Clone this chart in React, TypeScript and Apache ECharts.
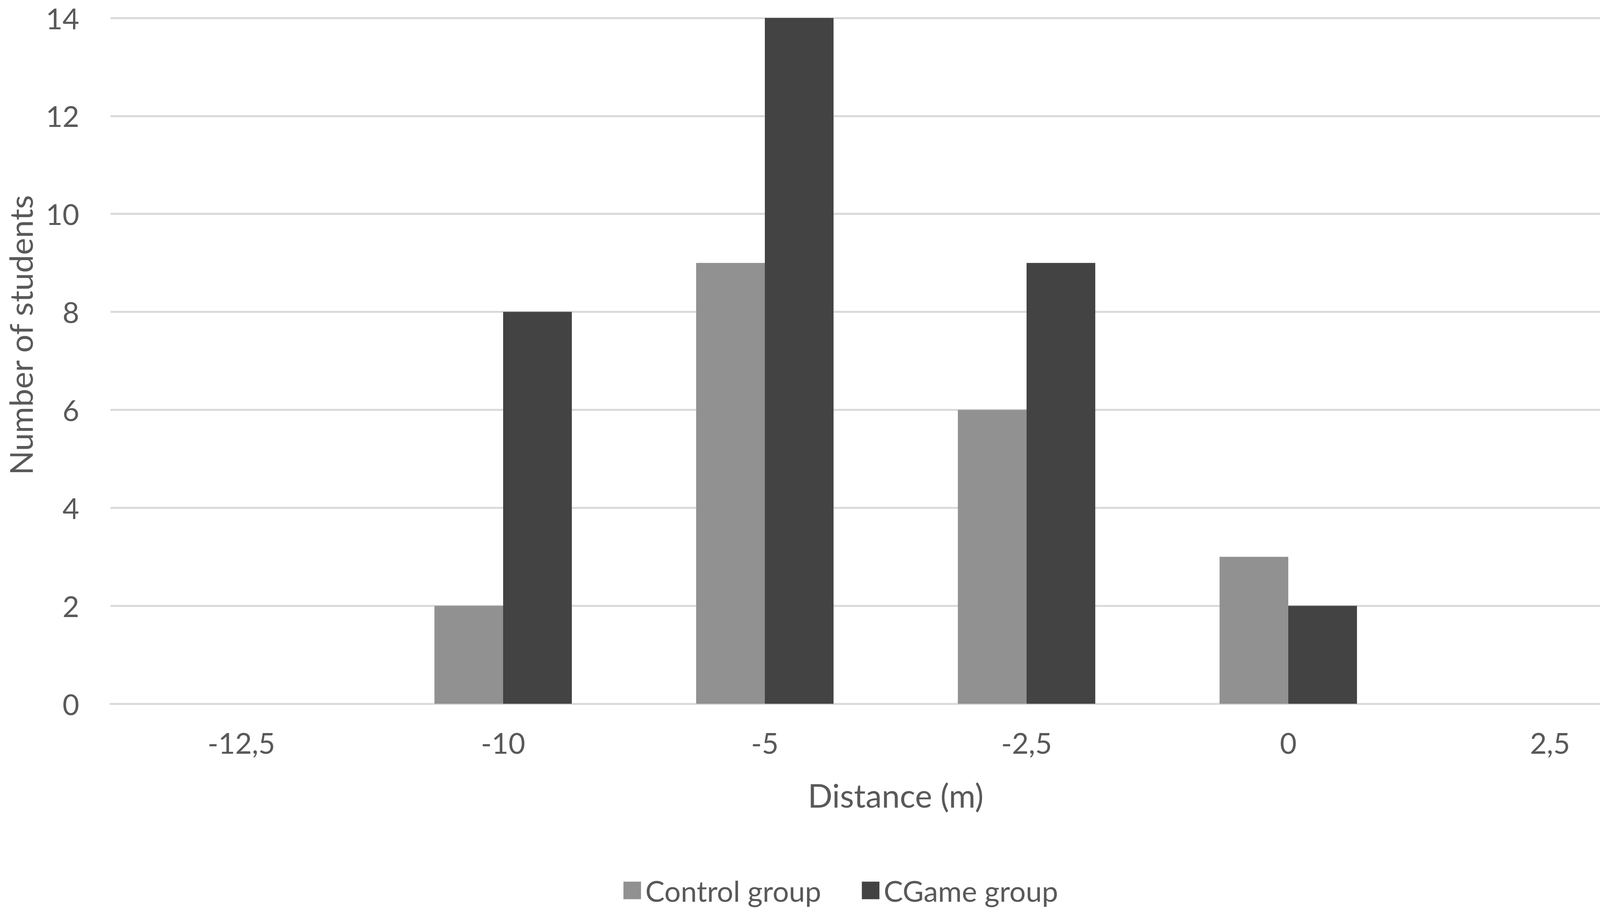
import React, { useEffect, useRef } from "react";
import * as echarts from "echarts";

const categories = ["-12,5", "-10", "-5", "-2,5", "0", "2,5"];
const controlGroup = [0, 2, 9, 6, 3, 0];
const cgameGroup = [0, 8, 14, 9, 2, 0];
const yMin = 0;
const yMax = 14;
const yInterval = 2;

const FONT = "Lato, 'Open Sans', sans-serif";
const TEXT = "#595959";
const GRID = "#d9d9d9";

export default function App() {
  const ref = useRef<HTMLDivElement>(null);
  useEffect(() => {
    if (!ref.current) return;
    const chart = echarts.init(ref.current, null, { renderer: "svg" });
    chart.setOption({
      animation: false,
      backgroundColor: "#ffffff",
      textStyle: { fontFamily: FONT },
      grid: { left: 283, right: 14, top: 46, bottom: 523, containLabel: false },
      legend: {
        left: 1591,
        top: 2236,
        itemWidth: 45,
        itemHeight: 45,
        itemGap: 104,
        icon: "rect",
        textStyle: {
          fontFamily: FONT,
          fontSize: 74,
          lineHeight: 78,
          color: TEXT,
          padding: [0, 0, 0, 6],
        },
        data: ["Control group", "CGame group"],
      },
      graphic: [
        {
          type: "text",
          x: 52,
          y: 858,
          rotation: Math.PI / 2,
          style: {
            text: "Number of students",
            font: `82px ${FONT}`,
            lineHeight: 82,
            fill: TEXT,
            align: "center",
            verticalAlign: "middle",
          },
        },
      ],
      xAxis: {
        type: "category",
        data: categories,
        name: "Distance (m)",
        nameLocation: "middle",
        nameGap: 192,
        nameTextStyle: { fontFamily: FONT, fontSize: 83, color: TEXT },
        axisLine: { show: true, lineStyle: { color: GRID, width: 5 } },
        axisTick: { show: false },
        axisLabel: { fontFamily: FONT, fontSize: 74, color: TEXT, margin: 62 },
        splitLine: { show: false },
      },
      yAxis: {
        type: "value",
        min: yMin,
        max: yMax,
        interval: yInterval,
        axisLine: { show: false },
        axisTick: { show: false },
        axisLabel: { fontFamily: FONT, fontSize: 74, color: TEXT, margin: 80 },
        splitLine: { show: true, lineStyle: { color: GRID, width: 5 } },
      },
      series: [
        {
          name: "Control group",
          type: "bar",
          data: controlGroup,
          barGap: "0%",
          barCategoryGap: "47.5%",
          itemStyle: { color: "#919191" },
        },
        {
          name: "CGame group",
          type: "bar",
          data: cgameGroup,
          barGap: "0%",
          barCategoryGap: "47.5%",
          itemStyle: { color: "#434343" },
        },
      ],
    });
    return () => chart.dispose();
  }, []);
  return (
    <div
      ref={ref}
      style={{ position: "fixed", left: 0, top: 0, width: 4317, height: 2325 }}
    />
  );
}
